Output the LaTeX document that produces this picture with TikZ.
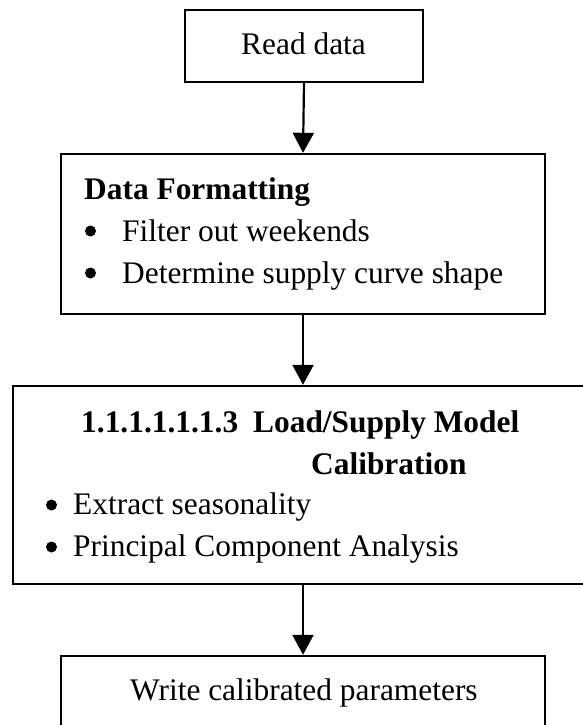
\documentclass[tikz,border=0pt]{standalone}
\usepackage{fontspec}
\setmainfont{Liberation Serif}
\usetikzlibrary{arrows.meta}
\tikzset{
  box/.style={draw=black, line width=2.4pt, fill=none, inner sep=0pt, rectangle},
  txt/.style={inner sep=0pt, anchor=base west, font=\fontsize{31.4}{36}\selectfont},
  btxt/.style={txt, font=\fontsize{31.4}{36}\selectfont\bfseries},
  dot/.style={circle, fill=black, inner sep=0pt, minimum size=11pt},
  flow/.style={line width=2.2pt, -{Triangle[length=20pt, width=21pt]}}
}
\begin{document}
\begin{tikzpicture}[x=1pt, y=-1pt]
\useasboundingbox (0,0) rectangle (583,725);
\clip (0,0) rectangle (583,725);
\fill[white] (0,0) rectangle (583,725);
% boxes
\node[box, minimum width=238pt, minimum height=72pt] (b1) at (304,46) {};
\node[box, minimum width=484pt, minimum height=160pt] (b2) at (303,234) {};
\node[box, minimum width=584pt, minimum height=198pt] (b3) at (305,485) {};
\node[box, minimum width=484pt, minimum height=90pt] (b4) at (303,701) {};
% texts
\node[txt] (t1) at (241,55) {Read data};
\node[btxt] (t2) at (84,199) {Data Formatting};
\node[dot] (d2a) at (90.5,231) {};
\node[txt] (t2b) at (122,241) {Filter out weekends};
\node[dot] (d2c) at (90.5,273) {};
\node[txt] (t2d) at (122,283) {Determine supply curve shape};
\node[btxt] (t3) at (81,432) {1.1.1.1.1.1.3\hspace{15pt}Load/Supply Model};
\node[btxt] (t3a) at (311,474) {Calibration};
\node[dot] (d3b) at (51.5,505) {};
\node[txt] (t3c) at (73,514) {Extract seasonality};
\node[dot] (d3d) at (51.5,547) {};
\node[txt] (t3e) at (73,556) {Principal Component Analysis};
\node[txt] (t4) at (130,700) {Write calibrated parameters};
% connectors
\draw[flow] (b1.south) -- (b2.north);
\draw[flow] (b2.south) -- (b2.south |- b3.north);
\draw[flow] (b2.south |- b3.south) -- (b2.south |- b4.north);
\end{tikzpicture}
\end{document}
